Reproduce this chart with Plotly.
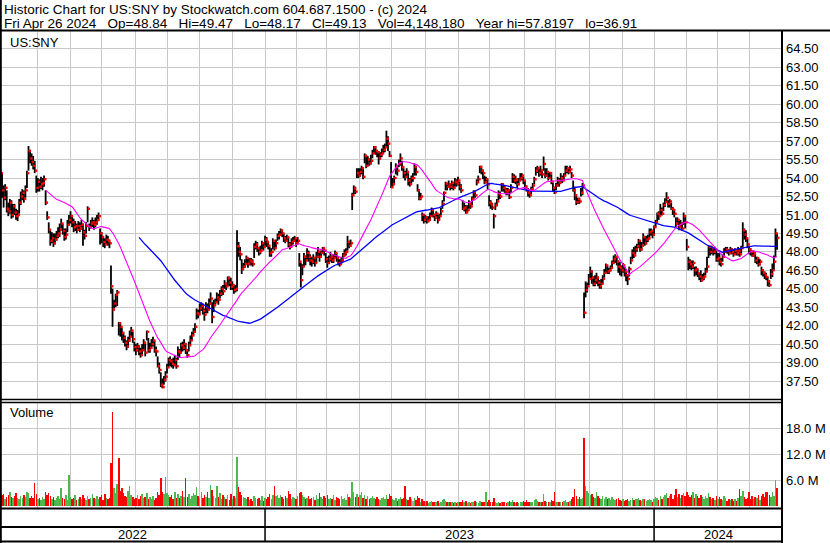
import pandas as pd
import plotly.graph_objects as go

# ---------------- data ----------------
close = [
    54.4, 53.0, 52.4, 53.2, 51.5, 51.3, 52.0, 51.0, 51.7, 51.2,
    50.9, 51.0, 52.0, 52.5, 52.8, 52.3, 53.0, 54.4, 56.2, 55.6,
    55.3, 55.0, 54.6, 53.2, 53.7, 53.3, 53.5, 53.6, 53.9, 52.0,
    50.8, 49.8, 48.9, 49.1, 48.7, 49.0, 49.3, 49.5, 49.8, 50.3,
    49.7, 49.2, 49.4, 50.2, 50.6, 50.9, 50.4, 50.0, 50.1, 49.8,
    50.1, 49.9, 50.2, 49.6, 49.3, 50.1, 51.5, 50.0, 50.3, 50.4,
    50.2, 50.4, 50.6, 50.9, 49.5, 49.2, 48.8, 48.6, 49.0, 48.9,
    48.7, 45.2, 43.3, 43.8, 44.5, 44.7, 42.2, 41.9, 41.4, 41.0,
    40.6, 40.3, 40.8, 41.1, 41.6, 40.9, 40.25, 40.0, 40.3, 39.9,
    39.6, 40.0, 40.6, 39.8, 41.5, 40.0, 40.2, 40.5, 40.8, 40.0,
    39.9, 38.7, 38.4, 37.2, 37.0, 37.6, 37.85, 38.6, 39.2, 39.1,
    38.9, 38.8, 39.2, 38.7, 39.9, 39.8, 40.4, 40.2, 40.5, 40.0,
    39.6, 40.4, 40.8, 41.2, 41.5, 41.9, 43.0, 42.9, 43.4, 43.6,
    43.2, 42.9, 43.5, 43.3, 43.8, 44.2, 42.7, 43.65, 43.9, 44.3,
    44.1, 44.6, 45.0, 44.8, 45.4, 45.2, 45.85, 45.5, 45.15, 45.3,
    44.9, 45.0, 48.45, 48.0, 47.8, 46.6, 46.8, 47.0, 47.5, 47.05,
    47.3, 47.2, 47.0, 48.4, 48.6, 48.3, 48.0, 48.1, 48.7, 48.4,
    49.0, 48.8, 48.5, 47.9, 48.0, 48.9, 48.3, 48.7, 49.3, 49.4,
    49.75, 49.5, 49.1, 48.9, 49.2, 48.6, 48.4, 48.8, 48.9, 49.1,
    48.7, 48.9, 47.2, 45.7, 46.8, 47.6, 47.3, 47.9, 47.6, 47.3,
    47.2, 47.5, 47.1, 47.6, 48.0, 47.6, 47.9, 48.3, 48.1, 47.4,
    47.1, 47.4, 47.6, 47.3, 47.5, 47.9, 47.5, 47.1, 47.0, 47.3,
    47.7, 47.9, 48.0, 48.8, 48.5, 48.7, 52.6, 53.15, 52.9, 54.4,
    54.2, 54.5, 54.8, 54.1, 55.8, 55.0, 55.5, 55.2, 55.4, 56.0,
    56.5, 56.2, 56.1, 55.6, 55.9, 56.0, 56.3, 56.5, 57.2, 56.8,
    55.8, 53.25, 53.5, 54.0, 54.9, 54.6, 55.2, 55.6, 54.9, 54.4,
    54.1, 54.5, 53.8, 53.5, 54.0, 54.0, 54.9, 54.5, 53.0, 52.35,
    52.5, 51.0, 50.6, 50.8, 50.5, 50.6, 50.9, 51.4, 51.0, 50.8,
    51.1, 50.6, 50.9, 51.3, 51.9, 52.8, 53.55, 53.3, 53.5, 53.3,
    53.6, 53.2, 53.7, 53.55, 53.8, 53.3, 53.0, 51.5, 51.6, 51.2,
    51.4, 51.9, 51.7, 52.3, 52.85, 52.6, 53.65, 53.9, 54.9, 54.6,
    54.4, 53.65, 53.9, 53.5, 52.0, 51.85, 51.6, 50.9, 51.8, 52.1,
    52.7, 52.5, 53.5, 53.2, 53.0, 52.85, 53.0, 52.45, 53.2, 54.1,
    53.8, 53.9, 53.5, 53.8, 54.0, 54.2, 53.8, 53.3, 53.0, 52.8,
    52.6, 53.1, 53.4, 53.9, 54.6, 54.8, 54.4, 54.6, 54.3, 55.15,
    54.2, 54.5, 54.0, 54.4, 53.7, 53.2, 52.85, 53.4, 53.8, 53.6,
    54.0, 53.8, 54.2, 54.6, 54.8, 54.5, 54.7, 54.2, 53.0, 52.6,
    52.05, 52.3, 52.1, 52.8, 53.4, 43.05, 44.9, 45.2, 45.8, 46.4,
    45.9, 45.4, 45.7, 45.9, 45.5, 45.2, 45.4, 45.8, 46.3, 46.9,
    46.4, 46.5, 46.7, 47.1, 47.4, 47.6, 47.2, 46.8, 46.7, 46.5,
    46.9, 46.4, 46.1, 45.8, 46.6, 47.3, 47.9, 47.7, 48.2, 48.45,
    48.9, 48.2, 48.5, 49.2, 48.7, 49.0, 49.1, 49.6, 49.7, 49.4,
    50.0, 50.4, 51.1, 50.9, 51.4, 51.1, 51.8, 52.05, 52.4, 51.9,
    52.1, 51.5, 51.4, 51.1, 50.3, 50.6, 50.05, 50.3, 49.9, 50.9,
    50.4, 48.4, 47.2, 47.0, 46.8, 47.1, 46.5, 46.6, 46.25, 46.0,
    45.7, 45.9, 46.0, 46.4, 46.8, 48.4, 48.0, 48.3, 48.0, 48.2,
    47.4, 47.5, 47.2, 47.0, 47.6, 48.0, 48.2, 48.1, 47.9, 48.2,
    48.0, 47.8, 48.1, 47.9, 48.1, 47.8, 48.3, 49.75, 49.4, 49.1,
    48.6, 48.2, 48.0, 47.7, 47.9, 47.3, 47.5, 47.0, 47.2, 46.5,
    46.3, 46.1, 45.95, 45.6, 45.3, 46.2, 46.5, 47.2, 49.5, 49.13,
]

high = [
    54.7, 54.5, 53.4, 53.5, 53.0, 52.0, 52.3, 52.2, 51.9, 51.9,
    51.5, 51.4, 52.3, 52.9, 53.1, 53.0, 53.4, 54.6, 56.6, 56.3,
    56.0, 55.8, 55.4, 54.2, 54.0, 53.9, 54.1, 54.0, 54.2, 53.0,
    51.3, 50.4, 49.7, 49.6, 49.5, 49.5, 49.7, 50.0, 50.3, 50.7,
    50.3, 49.9, 49.9, 50.6, 51.0, 51.3, 51.0, 50.7, 50.5, 50.3,
    50.5, 50.4, 50.6, 50.3, 49.8, 50.4, 51.7, 50.3, 50.6, 50.8,
    50.6, 50.8, 51.0, 51.2, 49.9, 49.6, 49.3, 49.1, 49.4, 49.3,
    49.0, 46.9, 45.0, 44.1, 44.6, 44.9, 42.3, 42.2, 41.8, 41.5,
    41.2, 40.8, 41.1, 41.6, 41.9, 41.5, 40.7, 40.5, 40.6, 40.4,
    40.2, 40.5, 40.9, 40.7, 41.6, 41.0, 40.6, 40.9, 41.1, 40.8,
    40.3, 39.5, 39.0, 38.2, 37.7, 37.9, 38.3, 38.9, 39.4, 39.5,
    39.3, 39.4, 39.6, 39.4, 40.3, 40.1, 40.6, 40.7, 40.9, 40.6,
    40.1, 40.7, 41.2, 41.5, 41.8, 42.2, 43.4, 43.3, 43.8, 43.9,
    43.8, 43.4, 43.9, 43.8, 44.2, 44.7, 43.9, 44.1, 44.2, 44.7,
    44.6, 44.9, 45.2, 45.3, 45.7, 45.5, 46.0, 46.0, 45.9, 45.6,
    45.3, 45.3, 49.75, 48.8, 48.4, 47.4, 47.1, 47.4, 47.7, 47.5,
    47.5, 47.5, 47.4, 48.7, 48.9, 48.8, 48.4, 48.5, 48.9, 48.8,
    49.3, 49.2, 48.9, 48.4, 48.3, 49.1, 48.9, 49.0, 49.5, 49.7,
    49.9, 49.8, 49.5, 49.3, 49.4, 49.2, 48.8, 49.1, 49.2, 49.3,
    49.1, 49.2, 47.9, 47.1, 47.0, 47.9, 47.7, 48.3, 48.1, 47.8,
    47.6, 47.8, 47.6, 48.0, 48.4, 48.1, 48.1, 48.4, 48.4, 47.9,
    47.6, 47.7, 48.0, 47.7, 47.8, 48.1, 47.9, 47.6, 47.4, 47.6,
    47.9, 48.2, 48.3, 49.3, 48.9, 49.0, 52.8, 53.4, 53.3, 54.8,
    54.8, 54.8, 55.0, 54.8, 56.0, 55.9, 55.8, 55.6, 55.9, 56.3,
    56.6, 56.6, 56.3, 56.2, 56.1, 56.4, 56.7, 56.8, 57.85, 57.4,
    56.2, 55.3, 54.0, 54.2, 55.2, 55.0, 55.5, 56.0, 55.4, 54.8,
    54.6, 54.8, 54.4, 54.0, 54.2, 54.4, 55.2, 55.0, 53.5, 53.1,
    52.8, 51.2, 51.1, 51.0, 50.9, 50.9, 51.2, 51.6, 51.5, 51.1,
    51.3, 51.0, 51.1, 51.6, 52.2, 52.9, 53.7, 53.6, 53.8, 53.6,
    53.8, 53.7, 54.0, 53.9, 54.1, 53.7, 53.5, 52.2, 52.0, 51.8,
    51.8, 52.2, 52.0, 52.5, 53.0, 53.0, 53.9, 54.2, 55.0, 55.0,
    54.7, 54.2, 54.1, 53.9, 52.6, 52.2, 52.0, 51.1, 52.0, 52.3,
    53.0, 52.9, 53.6, 53.6, 53.4, 53.2, 53.2, 53.1, 53.5, 54.4,
    54.3, 54.2, 53.8, 54.0, 54.4, 54.4, 54.1, 53.8, 53.4, 53.2,
    52.9, 53.3, 53.6, 54.1, 54.9, 55.0, 54.8, 55.0, 54.7, 55.75,
    54.8, 54.8, 54.5, 54.5, 54.3, 53.6, 53.3, 53.6, 54.1, 54.0,
    54.4, 54.2, 54.4, 55.0, 55.0, 54.9, 55.0, 54.5, 53.8, 53.3,
    52.7, 52.4, 52.4, 53.2, 53.6, 44.7, 45.6, 45.5, 46.2, 46.8,
    46.5, 46.0, 46.1, 46.3, 46.0, 45.7, 45.8, 46.1, 46.6, 47.05,
    46.9, 46.7, 46.9, 47.3, 47.7, 47.8, 47.6, 47.3, 47.2, 46.9,
    47.1, 46.8, 46.6, 46.2, 46.8, 47.6, 48.2, 48.4, 48.5, 48.65,
    49.05, 48.9, 48.8, 49.5, 49.3, 49.3, 49.4, 49.9, 49.9, 49.8,
    50.15, 50.6, 51.2, 51.3, 51.9, 51.6, 52.0, 52.35, 52.85, 52.2,
    52.3, 52.0, 51.65, 51.5, 50.8, 50.8, 50.55, 50.6, 50.4, 51.2,
    51.0, 49.05, 47.6, 47.4, 47.3, 47.3, 46.8, 46.8, 46.6, 46.3,
    46.5, 46.2, 46.3, 46.7, 47.6, 48.5, 48.5, 48.5, 48.4, 48.4,
    48.1, 47.9, 47.9, 47.5, 47.8, 48.3, 48.4, 48.4, 48.2, 48.4,
    48.3, 48.2, 48.3, 48.2, 48.4, 48.3, 48.5, 50.4, 49.9, 49.75,
    49.1, 48.5, 48.3, 48.1, 48.1, 47.8, 47.6, 47.5, 47.4, 46.8,
    46.6, 46.4, 46.3, 45.95, 45.7, 46.6, 47.05, 47.7, 49.9, 49.47,
]

low = [
    53.6, 52.4, 51.6, 52.2, 51.2, 50.9, 51.1, 50.7, 50.8, 51.0,
    50.6, 50.5, 51.1, 51.8, 52.2, 52.0, 52.4, 53.2, 54.6, 55.2,
    55.0, 54.7, 54.4, 52.8, 52.9, 52.9, 53.1, 53.0, 53.3, 51.8,
    50.6, 49.5, 48.5, 48.7, 48.4, 48.6, 48.9, 49.1, 49.2, 49.9,
    49.4, 48.9, 49.0, 49.6, 50.1, 50.3, 50.0, 49.6, 49.7, 49.5,
    49.7, 49.6, 49.8, 48.5, 49.0, 49.5, 50.4, 49.7, 49.9, 50.0,
    49.8, 50.0, 50.2, 50.5, 48.6, 48.7, 48.4, 48.3, 48.6, 48.5,
    48.3, 44.6, 41.9, 43.4, 43.5, 43.6, 41.2, 41.1, 40.8, 40.6,
    40.3, 40.0, 40.2, 40.7, 41.1, 40.6, 39.9, 39.6, 39.9, 39.6,
    39.4, 39.6, 40.0, 39.5, 40.8, 39.8, 39.8, 40.1, 40.3, 39.8,
    39.5, 38.6, 38.1, 37.0, 36.91, 37.2, 37.45, 38.1, 38.6, 38.7,
    38.6, 38.5, 38.7, 38.5, 39.2, 39.4, 39.8, 39.9, 40.0, 39.7,
    39.4, 39.9, 40.4, 40.8, 41.2, 41.4, 42.5, 42.6, 42.9, 43.2,
    42.9, 42.4, 43.0, 43.0, 43.3, 43.7, 42.2, 43.1, 43.6, 43.9,
    43.7, 44.2, 44.4, 44.5, 45.0, 44.9, 45.2, 45.2, 44.9, 44.9,
    44.6, 44.7, 44.8, 47.6, 47.3, 46.2, 46.5, 46.7, 47.1, 46.7,
    46.9, 46.9, 46.8, 47.5, 48.2, 48.0, 47.7, 47.8, 48.2, 48.1,
    48.5, 48.4, 48.2, 47.6, 47.6, 48.2, 48.1, 48.3, 48.9, 49.0,
    49.3, 49.2, 48.8, 48.7, 48.8, 48.4, 48.2, 48.4, 48.6, 48.8,
    48.4, 48.6, 46.8, 45.1, 46.1, 46.8, 46.9, 47.3, 47.2, 46.9,
    46.8, 47.0, 46.8, 47.1, 47.5, 47.2, 47.6, 47.9, 47.7, 47.1,
    46.7, 47.0, 47.2, 47.1, 47.1, 47.5, 47.2, 46.9, 46.8, 47.0,
    47.2, 47.6, 47.7, 48.1, 48.3, 48.4, 51.4, 52.7, 52.7, 54.0,
    54.0, 54.1, 54.3, 53.9, 55.2, 54.8, 55.0, 55.0, 55.1, 55.6,
    56.0, 55.9, 55.7, 55.1, 55.5, 55.7, 56.0, 56.1, 56.5, 56.2,
    55.7, 53.2, 53.3, 53.6, 54.3, 54.2, 54.9, 55.0, 54.6, 54.0,
    53.8, 54.0, 53.4, 53.3, 53.6, 53.7, 54.2, 54.2, 52.9, 52.2,
    52.2, 50.5, 50.3, 50.4, 50.3, 50.4, 50.5, 50.9, 50.8, 50.5,
    50.7, 50.3, 50.6, 51.0, 51.5, 52.1, 53.0, 53.0, 53.2, 53.0,
    53.1, 53.0, 53.3, 53.3, 53.4, 53.0, 52.8, 51.4, 51.3, 51.1,
    51.2, 51.5, 51.5, 51.8, 52.3, 52.4, 53.4, 53.6, 54.4, 54.3,
    53.9, 53.5, 53.6, 53.1, 51.7, 51.5, 51.4, 49.9, 51.4, 51.7,
    52.2, 52.3, 52.9, 52.9, 52.8, 52.6, 52.6, 52.3, 52.8, 53.6,
    53.6, 53.5, 53.2, 53.4, 53.8, 53.8, 53.5, 53.1, 52.9, 52.5,
    52.4, 52.7, 53.0, 53.5, 54.2, 54.4, 54.1, 54.2, 54.0, 54.6,
    54.0, 54.1, 53.8, 54.0, 53.5, 52.9, 52.7, 53.0, 53.3, 53.3,
    53.7, 53.6, 53.8, 54.2, 54.4, 54.3, 54.4, 54.0, 52.9, 52.2,
    51.8, 51.9, 51.9, 52.5, 52.6, 42.6, 44.3, 44.7, 45.3, 45.8,
    45.4, 45.2, 45.2, 45.4, 45.2, 45.0, 45.0, 45.4, 45.9, 46.3,
    46.2, 46.2, 46.4, 46.6, 47.0, 47.1, 46.9, 46.3, 46.1, 46.0,
    46.3, 46.0, 45.6, 45.3, 46.0, 47.0, 47.4, 47.5, 47.8, 48.0,
    48.3, 48.0, 48.1, 48.6, 48.5, 48.6, 48.8, 49.0, 49.3, 49.1,
    49.3, 50.0, 50.4, 50.6, 51.0, 50.95, 51.3, 51.65, 52.0, 51.6,
    51.6, 51.4, 51.0, 50.8, 50.0, 50.2, 49.75, 49.9, 49.7, 50.2,
    49.9, 48.1, 46.5, 46.6, 46.5, 46.6, 46.0, 46.1, 45.95, 45.7,
    45.55, 45.6, 45.7, 46.1, 46.4, 47.5, 47.7, 47.8, 47.7, 47.8,
    47.2, 47.2, 46.9, 46.8, 47.2, 47.6, 47.9, 47.85, 47.7, 47.8,
    47.8, 47.6, 47.8, 47.7, 47.7, 47.6, 47.9, 48.4, 49.0, 48.8,
    48.3, 47.8, 47.7, 47.6, 47.6, 47.1, 47.0, 46.8, 46.9, 46.1,
    46.0, 45.8, 45.7, 45.2, 45.15, 45.8, 45.95, 46.5, 47.6, 48.17,
]

volume_m = [
    2.3, 2.6, 2.9, 1.8, 2.1, 2.7, 3.3, 2.2, 1.9, 2.4,
    3.0, 2.0, 1.6, 2.4, 1.9, 2.6, 2.2, 3.4, 3.0, 2.0,
    2.3, 1.9, 5.4, 2.8, 1.6, 2.0, 1.5, 2.1, 1.8, 3.2,
    2.6, 3.0, 2.4, 1.8, 2.2, 1.5, 1.9, 2.3, 1.7, 4.2,
    2.0, 1.8, 2.5, 1.5, 7.2, 2.1, 1.6, 1.9, 2.7, 1.4,
    1.8, 2.2, 1.6, 2.5, 1.9, 1.4, 2.3, 1.7, 2.0, 2.8,
    1.9, 1.6, 2.4, 1.8, 2.2, 2.6, 1.5, 2.9, 2.0, 1.7,
    1.9, 10.0, 21.8, 4.3, 3.1, 5.2, 11.1, 3.6, 4.2, 3.0,
    2.4, 2.1, 3.5, 4.6, 2.6, 2.2, 1.8, 2.0, 2.5, 1.7,
    2.3, 2.8, 1.9, 2.2, 3.0, 1.6, 2.1, 1.8, 2.4, 1.5,
    2.0, 3.2, 2.7, 6.5, 3.4, 2.8, 6.7, 3.1, 2.6, 2.2,
    2.5, 1.8, 3.3, 2.0, 2.8, 1.9, 2.4, 3.6, 2.1, 6.5,
    2.2, 2.9, 1.8, 2.3, 3.0, 2.6, 4.5, 2.4, 2.0, 3.4,
    1.9, 2.7, 2.1, 3.3, 2.0, 4.9, 3.8, 2.3, 1.9, 4.6,
    2.2, 3.0, 1.8, 2.5, 2.1, 1.7, 2.6, 1.5, 2.9, 1.8,
    2.4, 2.0, 11.4, 4.5, 3.2, 2.7, 2.1, 1.9, 1.6, 2.2,
    1.5, 1.8, 1.3, 2.4, 2.0, 1.6, 1.9, 1.4, 2.3, 1.2,
    2.0, 1.7, 2.2, 2.9, 1.8, 2.5, 4.6, 2.3, 2.7, 1.9,
    2.6, 2.1, 1.8, 2.4, 2.0, 3.5, 2.9, 1.6, 2.2, 1.9,
    1.7, 2.3, 3.0, 3.3, 2.6, 2.2, 1.8, 2.0, 2.4, 1.6,
    1.9, 2.1, 1.5, 2.6, 1.8, 3.0, 2.2, 1.7, 2.4, 2.0,
    2.5, 1.6, 2.0, 1.8, 2.7, 1.5, 2.2, 1.9, 1.6, 2.3,
    1.8, 2.0, 1.4, 2.8, 2.1, 1.9, 5.7, 3.4, 2.2, 2.9,
    2.1, 2.5, 3.2, 2.0, 2.7, 1.8, 2.3, 1.6, 2.0, 2.4,
    1.9, 1.6, 2.2, 1.7, 1.4, 1.9, 2.1, 1.6, 2.6, 1.8,
    2.9, 2.4, 1.7, 1.5, 2.0, 1.3, 1.8, 2.2, 1.6, 1.9,
    4.6, 1.7, 1.4, 2.1, 1.6, 1.2, 1.9, 1.5, 2.3, 2.0,
    1.1, 1.6, 1.3, 0.9, 1.2, 0.8, 1.0, 1.3, 0.9, 1.1,
    0.9, 1.2, 0.8, 1.0, 1.4, 1.6, 1.2, 0.9, 1.1, 0.9,
    1.0, 0.8, 1.0, 0.7, 1.1, 0.9, 1.0, 1.5, 1.0, 1.2,
    0.8, 1.0, 0.7, 1.0, 0.9, 1.2, 1.0, 0.8, 1.3, 1.0,
    0.9, 1.1, 3.2, 1.0, 1.5, 1.0, 0.9, 1.9, 1.1, 0.8,
    1.0, 0.7, 1.1, 0.9, 1.0, 0.8, 1.0, 1.2, 0.9, 1.4,
    1.0, 0.8, 1.0, 0.7, 1.1, 0.9, 1.2, 1.0, 1.5, 1.0,
    1.1, 0.9, 1.0, 1.4, 1.6, 1.2, 1.0, 1.1, 0.9, 2.8,
    1.3, 1.0, 1.1, 1.0, 1.5, 1.2, 3.2, 0.9, 1.1, 1.0,
    1.0, 0.9, 1.2, 1.4, 1.1, 1.0, 1.3, 1.6, 2.2, 3.9,
    2.4, 1.8, 2.2, 1.6, 1.9, 15.7, 4.7, 3.6, 3.0, 2.5,
    2.8, 2.2, 1.9, 3.2, 2.4, 2.0, 1.7, 2.3, 1.8, 2.1,
    1.6, 1.9, 1.5, 2.2, 1.8, 1.4, 1.7, 2.0, 1.5, 1.3,
    1.6, 1.2, 1.4, 1.8, 1.3, 1.5, 1.9, 1.4, 1.7, 1.6,
    2.0, 1.5, 1.3, 1.8, 1.6, 1.2, 1.4, 1.7, 1.5, 1.1,
    1.8, 2.2, 1.9, 1.5, 2.4, 1.7, 2.1, 2.6, 3.0, 1.9,
    2.3, 2.8, 1.8, 2.5, 4.0, 2.2, 2.9, 1.9, 2.6, 3.1,
    2.4, 3.3, 2.7, 2.2, 2.5, 3.2, 2.0, 2.8, 2.3, 1.9,
    2.6, 2.1, 1.8, 2.4, 2.0, 3.0, 2.2, 1.7, 1.9, 1.5,
    2.3, 1.6, 2.1, 1.8, 1.5, 2.4, 1.9, 1.3, 1.7, 1.4,
    1.6, 1.3, 1.8, 1.2, 2.0, 3.9, 2.3, 3.6, 2.1, 1.7,
    2.0, 3.2, 1.8, 2.4, 1.6, 2.2, 1.9, 2.6, 1.5, 2.3,
    2.8, 2.1, 3.4, 3.2, 2.5, 2.2, 3.3, 2.4, 6.0, 4.15,
]

# bar index where each month begins (vertical grid lines)
month_starts = [23.5, 45, 65, 87, 107, 128, 149, 170, 190, 209.5, 231, 251.5,
                273, 294, 314, 336.5, 356.5, 378.5, 399.5, 420, 441, 461, 481]
year_names = ["2022", "2023", "2024"]
year_first_bar = [170, 420]

price_ticks = [37.50, 39.00, 40.50, 42.00, 43.50, 45.00, 46.50, 48.00, 49.50, 51.00,
               52.50, 54.00, 55.50, 57.00, 58.50, 60.00, 61.50, 63.00, 64.50]
vol_ticks = [6, 12, 18]
vol_tick_text = ["6.0 M", "12.0 M", "18.0 M"]

header_1 = "Historic Chart for US:SNY by Stockwatch.com 604.687.1500 - (c) 2024"
header_items = ["Fri Apr 26 2024", "Op=48.84", "Hi=49.47", "Lo=48.17", "Cl=49.13",
                "Vol=4,148,180", "Year hi=57.8197", "lo=36.91"]
symbol_label = "US:SNY"
volume_label = "Volume"

fast_period = 30
slow_period = 90

assert len(close) == len(high) == len(low) == len(volume_m), (len(close), len(high), len(low), len(volume_m))

# ---------------- derived ----------------
n = len(close)
idx = list(range(n))
s = pd.Series(close)
ma_fast = [None if pd.isna(v) else v for v in s.rolling(fast_period).mean()]
ma_slow = [None if pd.isna(v) else v for v in s.rolling(slow_period).mean()]

seg_x, seg_y = [], []
for i in idx:
    seg_x += [i, i, None]
    seg_y += [low[i], high[i], None]

vol_colors = []
for i in idx:
    if i == 0 or close[i] > close[i - 1]:
        vol_colors.append("#4db84d")
    elif close[i] < close[i - 1]:
        vol_colors.append("#ff0000")
    else:
        vol_colors.append("#a8a8a8")

# ---------------- layout geometry (pixels) ----------------
W, H = 830, 543
PLOT_R = 782


def py(p):
    return 1 - p / H


def pxx(p):
    return p / W


x_range = [-0.32, 502.2]
FONT = "Liberation Sans, Arial, sans-serif"
GRID = "#c8c8c8"

fig = go.Figure()
fig.add_trace(go.Scatter(x=seg_x, y=seg_y, mode="lines",
                         line=dict(color="black", width=1.8),
                         xaxis="x", yaxis="y", hoverinfo="skip"))
fig.add_trace(go.Scatter(x=[i + 0.8 for i in idx], y=close, mode="markers",
                         marker=dict(symbol="square", size=2.4, color="#ff0000", line=dict(width=0)),
                         xaxis="x", yaxis="y", hoverinfo="skip"))
fig.add_trace(go.Scatter(x=idx, y=ma_slow, mode="lines",
                         line=dict(color="#0000ff", width=1.3),
                         xaxis="x", yaxis="y", hoverinfo="skip"))
fig.add_trace(go.Scatter(x=idx, y=ma_fast, mode="lines",
                         line=dict(color="#ff00ff", width=1.1),
                         xaxis="x", yaxis="y", hoverinfo="skip"))
fig.add_trace(go.Bar(x=idx, y=volume_m, width=0.95,
                     marker=dict(color=vol_colors, line=dict(width=0)),
                     xaxis="x2", yaxis="y2", hoverinfo="skip"))

axis_common_x = dict(range=x_range, domain=[0, PLOT_R / W], tickvals=month_starts,
                     showticklabels=False, showgrid=True, gridcolor=GRID, gridwidth=1,
                     zeroline=False, ticks="", showline=False, fixedrange=True)

fig.update_layout(
    width=W, height=H,
    margin=dict(l=0, r=0, t=0, b=0),
    paper_bgcolor="white", plot_bgcolor="white",
    showlegend=False, bargap=0,
    font=dict(family=FONT, size=13, color="black"),
    xaxis=dict(anchor="y", **axis_common_x),
    xaxis2=dict(anchor="y2", **axis_common_x),
    yaxis=dict(anchor="x", domain=[py(400), py(31)], range=[35.955, 65.955],
               side="right", tickvals=price_ticks, tickformat=".2f",
               showgrid=True, gridcolor=GRID, gridwidth=1, zeroline=False,
               ticks="", ticklabelstandoff=3, automargin=False, fixedrange=True,
               tickfont=dict(family=FONT, size=13, color="black")),
    yaxis2=dict(anchor="x2", domain=[py(508), py(402)], range=[-0.39, 24.07],
                side="right", tickvals=vol_ticks, ticktext=vol_tick_text,
                showgrid=True, gridcolor=GRID, gridwidth=1, zeroline=False,
                ticks="", ticklabelstandoff=3, automargin=False, fixedrange=True,
                tickfont=dict(family=FONT, size=13, color="black")),
)

# ---------------- frame lines ----------------
shapes = []


def hline(ypx, x0px, x1px, w=2):
    shapes.append(dict(type="line", xref="paper", yref="paper",
                       x0=pxx(x0px), x1=pxx(x1px), y0=py(ypx), y1=py(ypx),
                       line=dict(color="black", width=w)))


def vline(xpx, y0px, y1px, w=2):
    shapes.append(dict(type="line", xref="paper", yref="paper",
                       x0=pxx(xpx), x1=pxx(xpx), y0=py(y0px), y1=py(y1px),
                       line=dict(color="black", width=w)))


hline(30.5, 0, W, 2)          # header separator
vline(0.8, 0, H, 2)           # left border
vline(PLOT_R, 30, H, 2)       # right axis line
hline(399.5, 0, PLOT_R, 1.5)  # price / volume separator (double)
hline(402.5, 0, PLOT_R, 1.5)
hline(508.5, 0, PLOT_R, 2)    # bottom of volume panel
hline(527, 0, PLOT_R, 2)      # top of year strip
hline(541.5, 0, PLOT_R, 2)    # bottom border
for b in year_first_bar:
    shapes.append(dict(type="line", xref="x2", yref="paper", x0=b, x1=b,
                       y0=py(541.5), y1=py(508.5), line=dict(color="black", width=1.5)))
fig.update_layout(shapes=shapes)

# ---------------- texts ----------------
HEAD = 13.5
ann = []
ann.append(dict(text=header_1, xref="paper", yref="paper", x=pxx(2), y=py(10),
                xanchor="left", yanchor="middle", showarrow=False,
                font=dict(family=FONT, size=HEAD, color="black")))
ann.append(dict(text="\u00a0\u00a0\u00a0".join(header_items), xref="paper", yref="paper",
                x=pxx(2), y=py(23.5), xanchor="left", yanchor="middle", showarrow=False,
                font=dict(family=FONT, size=HEAD, color="black")))
ann.append(dict(text=symbol_label, xref="paper", yref="paper", x=pxx(8), y=py(42),
                xanchor="left", yanchor="middle", showarrow=False,
                font=dict(family=FONT, size=13, color="black")))
ann.append(dict(text=volume_label, xref="paper", yref="paper", x=pxx(8), y=py(413),
                xanchor="left", yanchor="middle", showarrow=False,
                font=dict(family=FONT, size=13, color="black")))
bounds = [x_range[0]] + year_first_bar + [x_range[1]]
for k, name in enumerate(year_names):
    ann.append(dict(text=name, xref="x2", yref="paper", x=(bounds[k] + bounds[k + 1]) / 2,
                    y=py(534.5), xanchor="center", yanchor="middle", showarrow=False,
                    font=dict(family=FONT, size=13, color="black")))
fig.update_layout(annotations=ann)

fig.write_html("out.html", config={"displayModeBar": False, "staticPlot": True},
               post_script="document.body.style.margin='0';")
